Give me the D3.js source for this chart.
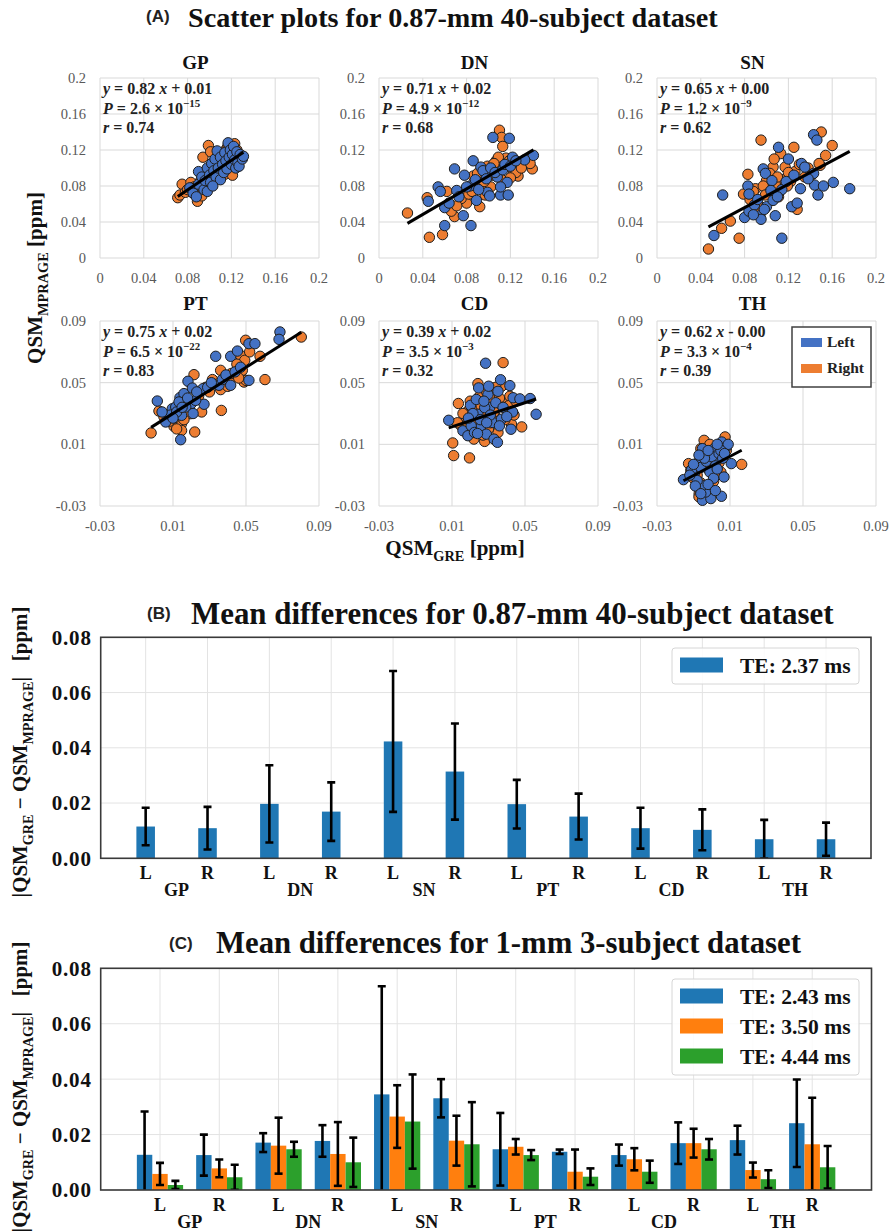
<!DOCTYPE html>
<html><head><meta charset="utf-8">
<script src="https://cdn.jsdelivr.net/npm/d3@7"></script>
<style>body{margin:0;background:#fff} svg{display:block}</style>
</head><body><svg id="c" width="891" height="1232"></svg>
<script>
// ---------------- DATA ----------------
const regions = ["GP","DN","SN","PT","CD","TH"];
const sides = ["L","R"];
const seriesNames = ["Left","Right"];

const gpLeft = [[0.082,0.078],[0.085,0.072],[0.088,0.068],[0.090,0.082],[0.090,0.096],[0.093,0.090],[0.095,0.076],[0.096,0.086],[0.098,0.074],[0.098,0.100],[0.100,0.092],[0.101,0.084],[0.102,0.105],[0.104,0.097],[0.105,0.110],[0.106,0.090],[0.107,0.119],[0.108,0.100],[0.110,0.087],[0.110,0.112],[0.112,0.104],[0.113,0.095],[0.114,0.117],[0.115,0.108],[0.116,0.099],[0.117,0.128],[0.118,0.112],[0.119,0.120],[0.120,0.104],[0.121,0.115],[0.122,0.124],[0.123,0.109],[0.124,0.100],[0.125,0.118],[0.126,0.106],[0.127,0.102],[0.128,0.115],[0.130,0.110],[0.131,0.113],[0.103,0.080]];
const gpRight = [[0.071,0.067],[0.073,0.070],[0.075,0.082],[0.078,0.073],[0.080,0.076],[0.083,0.084],[0.086,0.079],[0.089,0.063],[0.090,0.074],[0.092,0.086],[0.094,0.112],[0.095,0.091],[0.097,0.080],[0.099,0.125],[0.100,0.095],[0.101,0.118],[0.103,0.102],[0.105,0.088],[0.106,0.108],[0.108,0.097],[0.110,0.114],[0.111,0.102],[0.113,0.118],[0.114,0.093],[0.115,0.106],[0.116,0.122],[0.118,0.110],[0.119,0.098],[0.120,0.116],[0.121,0.092],[0.122,0.108],[0.123,0.127],[0.124,0.113],[0.125,0.120],[0.126,0.104],[0.128,0.110],[0.087,0.071],[0.093,0.069],[0.109,0.090],[0.117,0.125]];
const dnLeft = [[0.045,0.063],[0.054,0.079],[0.056,0.074],[0.060,0.056],[0.060,0.036],[0.069,0.099],[0.077,0.047],[0.084,0.036],[0.078,0.092],[0.086,0.108],[0.089,0.064],[0.093,0.101],[0.099,0.073],[0.101,0.069],[0.104,0.134],[0.119,0.133],[0.111,0.070],[0.118,0.070],[0.117,0.084],[0.122,0.112],[0.141,0.114],[0.133,0.109],[0.111,0.079],[0.108,0.090],[0.097,0.094],[0.083,0.080],[0.080,0.079],[0.071,0.075],[0.073,0.068],[0.088,0.087],[0.095,0.097],[0.102,0.100],[0.106,0.095],[0.113,0.098],[0.115,0.104],[0.120,0.102],[0.125,0.108],[0.091,0.076],[0.064,0.061],[0.098,0.088]];
const dnRight = [[0.026,0.050],[0.046,0.023],[0.058,0.026],[0.044,0.067],[0.062,0.074],[0.069,0.046],[0.110,0.142],[0.112,0.134],[0.113,0.124],[0.140,0.099],[0.138,0.105],[0.127,0.091],[0.092,0.057],[0.080,0.061],[0.086,0.091],[0.094,0.079],[0.102,0.079],[0.111,0.102],[0.116,0.111],[0.123,0.096],[0.112,0.087],[0.066,0.052],[0.075,0.066],[0.082,0.071],[0.088,0.083],[0.090,0.094],[0.096,0.085],[0.099,0.102],[0.104,0.092],[0.107,0.108],[0.109,0.112],[0.114,0.100],[0.119,0.108],[0.125,0.095],[0.130,0.100],[0.071,0.058],[0.085,0.074],[0.097,0.070],[0.105,0.105],[0.120,0.089]];
const snLeft = [[0.052,0.025],[0.060,0.070],[0.083,0.080],[0.084,0.071],[0.080,0.045],[0.084,0.052],[0.094,0.047],[0.095,0.043],[0.097,0.099],[0.099,0.094],[0.105,0.086],[0.100,0.057],[0.108,0.047],[0.111,0.123],[0.114,0.022],[0.114,0.076],[0.120,0.110],[0.123,0.057],[0.128,0.061],[0.131,0.077],[0.132,0.105],[0.135,0.101],[0.143,0.137],[0.146,0.131],[0.143,0.094],[0.144,0.081],[0.147,0.070],[0.152,0.080],[0.161,0.084],[0.176,0.077],[0.104,0.075],[0.089,0.059],[0.092,0.065],[0.098,0.054],[0.106,0.064],[0.110,0.068],[0.118,0.085],[0.125,0.092],[0.138,0.088],[0.088,0.048]];
const snRight = [[0.047,0.010],[0.059,0.033],[0.067,0.041],[0.075,0.022],[0.095,0.131],[0.083,0.093],[0.079,0.071],[0.090,0.077],[0.106,0.101],[0.113,0.116],[0.125,0.123],[0.150,0.140],[0.160,0.125],[0.154,0.114],[0.149,0.103],[0.128,0.054],[0.111,0.068],[0.115,0.087],[0.100,0.086],[0.117,0.101],[0.126,0.096],[0.135,0.090],[0.138,0.100],[0.094,0.052],[0.103,0.094],[0.085,0.065],[0.092,0.060],[0.097,0.080],[0.102,0.072],[0.108,0.082],[0.110,0.090],[0.120,0.095],[0.122,0.085],[0.130,0.104],[0.142,0.093],[0.148,0.105],[0.088,0.074],[0.099,0.070],[0.119,0.080],[0.107,0.110]];
const ptLeft = [[0.0014,0.0381],[0.006,0.0245],[0.0096,0.0331],[0.0115,0.0342],[0.0138,0.0403],[0.0142,0.013],[0.0147,0.0288],[0.016,0.0429],[0.0182,0.0509],[0.0206,0.0465],[0.020,0.0364],[0.027,0.036],[0.0264,0.0461],[0.0334,0.0671],[0.0352,0.0483],[0.0416,0.0483],[0.0416,0.0671],[0.0453,0.0705],[0.0516,0.0753],[0.0549,0.0753],[0.0516,0.0515],[0.0686,0.0829],[0.0681,0.0781],[0.0133,0.0375],[0.017,0.0342],[0.0224,0.0385],[0.0087,0.029],[0.004,0.031],[0.012,0.031],[0.018,0.040],[0.023,0.044],[0.029,0.047],[0.031,0.050],[0.037,0.052],[0.039,0.055],[0.044,0.057],[0.047,0.060],[0.010,0.027],[0.015,0.034],[0.021,0.030]];
const ptRight = [[-0.002,0.0174],[0.0023,0.0316],[0.0105,0.0217],[0.0147,0.0234],[0.0147,0.019],[0.0215,0.0552],[0.0219,0.018],[0.0197,0.0299],[0.0257,0.031],[0.0316,0.052],[0.0365,0.032],[0.0361,0.058],[0.0361,0.0455],[0.0425,0.0537],[0.047,0.0677],[0.048,0.058],[0.0498,0.0775],[0.0493,0.0645],[0.0489,0.0504],[0.0577,0.0671],[0.0604,0.052],[0.0803,0.0796],[0.050,0.0515],[0.011,0.0273],[0.017,0.0288],[0.028,0.047],[0.040,0.0476],[0.005,0.028],[0.008,0.025],[0.013,0.030],[0.019,0.035],[0.024,0.041],[0.030,0.044],[0.034,0.049],[0.045,0.062],[0.052,0.070],[0.012,0.020],[0.016,0.026],[0.042,0.056],[0.046,0.053]];
const cdLeft = [[0.0082,0.0256],[0.016,0.0188],[0.0187,0.0156],[0.0201,0.0353],[0.0233,0.0391],[0.0242,0.0295],[0.0246,0.0466],[0.026,0.022],[0.0288,0.0166],[0.0284,0.0626],[0.0297,0.0423],[0.0301,0.0477],[0.0306,0.0338],[0.0325,0.0241],[0.033,0.0134],[0.0349,0.0113],[0.0352,0.0444],[0.0366,0.0519],[0.0371,0.0263],[0.0417,0.0481],[0.0423,0.0198],[0.0432,0.031],[0.0435,0.0402],[0.0472,0.0395],[0.0528,0.0397],[0.0561,0.0295],[0.0205,0.022],[0.0223,0.0177],[0.0279,0.0338],[0.0215,0.030],[0.0255,0.026],[0.0275,0.038],[0.031,0.029],[0.034,0.037],[0.036,0.022],[0.038,0.034],[0.040,0.028],[0.019,0.027],[0.024,0.017],[0.029,0.024]];
const cdRight = [[0.0104,0.0109],[0.0109,0.0027],[0.0196,0.0012],[0.038,0.063],[0.0242,0.0494],[0.0135,0.0365],[0.0187,0.0316],[0.0279,0.0119],[0.022,0.0134],[0.0352,0.0177],[0.0385,0.0365],[0.0426,0.0231],[0.0482,0.0213],[0.0417,0.0412],[0.0371,0.0476],[0.0316,0.0466],[0.0168,0.0267],[0.015,0.022],[0.0316,0.0391],[0.0343,0.0273],[0.013,0.024],[0.017,0.020],[0.021,0.033],[0.023,0.026],[0.026,0.035],[0.028,0.028],[0.030,0.020],[0.033,0.031],[0.036,0.040],[0.039,0.026],[0.041,0.035],[0.044,0.029],[0.020,0.038],[0.025,0.041],[0.029,0.044],[0.034,0.047],[0.016,0.030],[0.027,0.016],[0.031,0.024],[0.045,0.038]];
const thLeft = [[-0.0155,-0.0129],[-0.0096,-0.009],[-0.0078,-0.0021],[-0.0051,0.0072],[-0.0015,0.004],[0.0013,0.0072],[0.0031,0.0007],[0.0055,0.0115],[0.008,0.0083],[0.0107,-0.0025],[0.0067,-0.0112],[-0.0051,-0.0263],[-0.0005,-0.0252],[0.0053,-0.0237],[-0.0033,-0.0209],[-0.0051,-0.0166],[-0.008,-0.0135],[-0.011,-0.0065],[-0.006,-0.005],[-0.003,-0.001],[0.000,0.002],[0.002,-0.004],[0.004,0.004],[0.006,0.001],[0.009,0.010],[-0.004,0.001],[-0.007,0.003],[-0.001,-0.008],[0.001,-0.012],[0.003,-0.006],[-0.009,-0.017],[-0.002,-0.016],[0.002,-0.020],[-0.006,-0.022],[0.005,0.006],[0.007,0.004],[-0.012,-0.010],[-0.010,-0.003],[0.003,0.010],[-0.002,0.006]];
const thRight = [[-0.0042,0.0126],[0.0073,0.0148],[0.0164,-0.003],[-0.0127,-0.0025],[-0.0069,-0.022],[0.0013,-0.0203],[0.0022,-0.009],[-0.0078,-0.0177],[-0.006,0.0072],[0.0004,0.004],[0.0049,0.0104],[-0.0115,-0.0069],[-0.004,-0.003],[-0.008,-0.010],[-0.002,-0.006],[0.000,0.000],[0.003,0.002],[0.006,0.008],[-0.006,-0.015],[-0.003,-0.018],[0.001,-0.014],[-0.010,-0.012],[-0.005,0.003],[0.004,-0.002],[-0.007,-0.024],[0.002,0.008],[0.008,0.006],[-0.001,0.010],[-0.009,-0.005],[0.005,-0.008]];

const leftSets = [gpLeft, dnLeft, snLeft, ptLeft, cdLeft, thLeft];
const rightSets = [gpRight, dnRight, snRight, ptRight, cdRight, thRight];

const fitSlope = [0.82, 0.71, 0.65, 0.75, 0.39, 0.62];
const fitIntercept = [0.010, 0.020, 0.004, 0.0225, 0.0175, -0.004];
const eqText = ["0.82 x + 0.01","0.71 x + 0.02","0.65 x + 0.00","0.75 x + 0.02","0.39 x + 0.02","0.62 x - 0.00"];
const pMantissa = ["2.6","4.9","1.2","6.5","3.5","3.3"];
const pExponent = ["\u221215","\u221212","\u22129","\u221222","\u22123","\u22124"];
const rValue = ["0.74","0.68","0.62","0.83","0.32","0.39"];

const ticksRow1 = [0, 0.04, 0.08, 0.12, 0.16, 0.2];
const ticksRow2 = [-0.03, 0.01, 0.05, 0.09];

// Panel B (0.87 mm, TE 2.37 ms): L/R per region
const meanB = [0.0115,0.0109,0.0197,0.0169,0.0423,0.0314,0.0196,0.0151,0.0109,0.0103,0.0069,0.0069];
const sdB   = [0.0068,0.0077,0.0140,0.0106,0.0255,0.0174,0.0088,0.0083,0.0074,0.0074,0.0070,0.0060];
const legendB = ["TE: 2.37 ms"];

// Panel C (1 mm, three TEs)
const meanC243 = [0.0127,0.0126,0.0171,0.0177,0.0345,0.0331,0.0147,0.0138,0.0126,0.0169,0.0180,0.0241];
const sdC243   = [0.0156,0.0074,0.0034,0.0057,0.0390,0.0069,0.0131,0.0008,0.0038,0.0075,0.0052,0.0158];
const meanC350 = [0.0058,0.0078,0.0160,0.0130,0.0265,0.0178,0.0156,0.0066,0.0111,0.0169,0.0072,0.0165];
const sdC350   = [0.0040,0.0032,0.0101,0.0115,0.0113,0.0090,0.0028,0.0080,0.0040,0.0052,0.0027,0.0168];
const meanC444 = [0.0018,0.0046,0.0147,0.0100,0.0247,0.0165,0.0126,0.0048,0.0066,0.0147,0.0039,0.0082];
const sdC444   = [0.0015,0.0045,0.0027,0.0089,0.0170,0.0152,0.0018,0.0030,0.0040,0.0037,0.0032,0.0077];
const legendC = ["TE: 2.43 ms","TE: 3.50 ms","TE: 4.44 ms"];

const barTicks = [0, 0.02, 0.04, 0.06, 0.08];

// ---------------- DRAWING ----------------
const SERIF = "'Liberation Serif','DejaVu Serif',serif";
const SANS = "'Liberation Sans','DejaVu Sans',sans-serif";
const svg = d3.select("#c");
svg.append("rect").attr("width",891).attr("height",1232).attr("fill","#fff");

function rich(sel, parts, fs) {
  let shift = 0;
  parts.forEach(p => {
    const t = sel.append("tspan").text(p.t);
    let target = 0;
    if (p.sub) { target = fs*0.28; t.attr("font-size", fs*0.68); }
    if (p.sup) { target = -fs*0.4; t.attr("font-size", fs*0.68); }
    if (target - shift !== 0) t.attr("dy", target - shift);
    shift = target;
    if (p.i) t.attr("font-style","italic");
  });
  return sel;
}
function fitWidth(sel, target) {
  const n = sel.node();
  const fs = parseFloat(sel.attr("font-size"));
  const w = n.getComputedTextLength();
  if (w > 0) { const nf = fs * target / w; sel.attr("font-size", nf); return nf; }
  return fs;
}

// Titles
function panelTitle(letter, lx, lby, text, tx, tby, width) {
  svg.append("text").attr("x",lx).attr("y",lby).attr("font-family",SANS).attr("font-size",17)
    .attr("font-weight","bold").attr("fill","#222").text(letter);
  const t = svg.append("text").attr("x",tx).attr("y",tby).attr("font-family",SERIF).attr("font-size",27)
    .attr("font-weight","bold").attr("fill","#111").text(text);
  fitWidth(t, width);
}
panelTitle("(A)", 146, 22, "Scatter plots for 0.87-mm 40-subject dataset", 188, 26.5, 530);
panelTitle("(B)", 147, 619, "Mean differences for 0.87-mm 40-subject dataset", 191, 623.5, 643);
panelTitle("(C)", 169, 949, "Mean differences for 1-mm 3-subject dataset", 216, 952.5, 585);

// ---- Panel A ----
const colX = [100, 379, 657], pw = 219;
const rowTop = [78, 321], rowH = [180, 185];
const domains = [[0, 0.2], [-0.03, 0.09]];
const tickSets = [ticksRow1, ticksRow2];
const fmtA = v => String(+v.toFixed(2));

regions.forEach((reg, i) => {
  const row = Math.floor(i/3), col = i % 3;
  const x0 = colX[col], y0 = rowTop[row], h = rowH[row];
  const xs = d3.scaleLinear().domain(domains[row]).range([x0, x0+pw]);
  const ys = d3.scaleLinear().domain(domains[row]).range([y0+h, y0]);
  const g = svg.append("g");
  const ticks = tickSets[row];
  g.selectAll(".hg").data(ticks).join("line")
    .attr("x1",x0).attr("x2",x0+pw).attr("y1",d=>ys(d)).attr("y2",d=>ys(d))
    .attr("stroke","#d9d9d9").attr("stroke-width",1);
  g.selectAll(".vg").data(ticks).join("line")
    .attr("y1",y0).attr("y2",y0+h).attr("x1",d=>xs(d)).attr("x2",d=>xs(d))
    .attr("stroke","#d9d9d9").attr("stroke-width",1);
  g.selectAll(".yl").data(ticks).join("text")
    .attr("x",x0-14).attr("y",d=>ys(d)).attr("dy","0.35em").attr("text-anchor","end")
    .attr("font-family",SERIF).attr("font-size",14.5).attr("fill","#595959").text(fmtA);
  g.selectAll(".xl").data(ticks).join("text")
    .attr("x",d=>xs(d)).attr("y",y0+h+20).attr("dy","0.35em").attr("text-anchor","middle")
    .attr("font-family",SERIF).attr("font-size",14.5).attr("fill","#595959").text(fmtA);
  g.append("text").attr("x",x0+pw/2-14).attr("y",row===0?68.5:309.5).attr("text-anchor","middle")
    .attr("font-family",SERIF).attr("font-size",19).attr("font-weight","bold").attr("fill","#111").text(reg);
  // points: Right first, then Left on top
  [[rightSets[i],"#ED7D31"],[leftSets[i],"#4472C4"]].forEach(([pts,col]) => {
    g.append("g").selectAll("circle").data(pts).join("circle")
      .attr("cx",d=>xs(d[0])).attr("cy",d=>ys(d[1])).attr("r",5.2)
      .attr("fill",col).attr("stroke","#1e1e1e").attr("stroke-width",1);
  });
  const all = leftSets[i].concat(rightSets[i]);
  const ext = d3.extent(all, d=>d[0]);
  const line = d3.line().x(d=>xs(d)).y(d=>ys(fitSlope[i]*d + fitIntercept[i]));
  g.append("path").attr("d", line(ext)).attr("stroke","#000").attr("stroke-width",3).attr("fill","none");
  // equation text
  const tx = x0+3, fs = 16;
  const t1 = g.append("text").attr("x",tx).attr("y",y0+16).attr("font-family",SERIF).attr("font-size",fs)
    .attr("font-weight","bold").attr("fill","#222");
  rich(t1, [{t:"y",i:true},{t:" = "},{t:eqText[i].split(" x ")[0]+" "},{t:"x",i:true},{t:" "+eqText[i].split(" x ")[1]}], fs);
  const t2 = g.append("text").attr("x",tx).attr("y",y0+35.5).attr("font-family",SERIF).attr("font-size",fs)
    .attr("font-weight","bold").attr("fill","#222");
  rich(t2, [{t:"P",i:true},{t:" = "+pMantissa[i]+" \u00d7 10"},{t:pExponent[i],sup:true}], fs);
  const t3 = g.append("text").attr("x",tx).attr("y",y0+55).attr("font-family",SERIF).attr("font-size",fs)
    .attr("font-weight","bold").attr("fill","#222");
  rich(t3, [{t:"r",i:true},{t:" = "+rValue[i]}], fs);

  if (i === 5) {
    const lg = g.append("g").attr("transform",`translate(${x0+135},${y0+6})`);
    lg.append("rect").attr("width",79).attr("height",60).attr("fill","#fff").attr("stroke","#404040").attr("stroke-width",1.5);
    seriesNames.forEach((nm, k) => {
      lg.append("rect").attr("x",9).attr("y",11+k*26).attr("width",21).attr("height",9)
        .attr("fill", k===0?"#4472C4":"#ED7D31");
      lg.append("text").attr("x",35).attr("y",20+k*26).attr("font-family",SERIF).attr("font-size",15.5)
        .attr("font-weight","bold").attr("fill","#222").text(nm);
    });
  }
});
// Panel A axis titles
{
  const fs0 = 20;
  const yt = svg.append("text").attr("transform","translate(42,278) rotate(-90)").attr("text-anchor","middle")
    .attr("font-family",SERIF).attr("font-size",fs0).attr("font-weight","bold").attr("fill","#111");
  rich(yt, [{t:"QSM"},{t:"MPRAGE",sub:true},{t:" [ppm]"}], fs0);
  const w = yt.node().getComputedTextLength();
  const fs = fs0 * 172 / w;
  yt.remove();
  const yt2 = svg.append("text").attr("transform","translate(42,278) rotate(-90)").attr("text-anchor","middle")
    .attr("font-family",SERIF).attr("font-size",fs).attr("font-weight","bold").attr("fill","#111");
  rich(yt2, [{t:"QSM"},{t:"MPRAGE",sub:true},{t:" [ppm]"}], fs);
  const xt = svg.append("text").attr("x",455).attr("y",555).attr("text-anchor","middle")
    .attr("font-family",SERIF).attr("font-size",fs).attr("font-weight","bold").attr("fill","#111");
  rich(xt, [{t:"QSM"},{t:"GRE",sub:true},{t:" [ppm]"}], fs);
}

// ---- Bar panels ----
const barColors = ["#1f77b4","#ff7f0e","#2ca02c"];
const cats = regions.flatMap(r => sides.map(s => ({region:r, side:s})));

function barPanel(opts) {
  const {left,right,top,bottom,xdom,series,width,offsets,legend,legendBox,ycenter,id} = opts;
  const xs = d3.scaleLinear().domain(xdom).range([left,right]);
  const ys = d3.scaleLinear().domain([0,0.08]).range([bottom,top]);
  const g = svg.append("g");
  g.append("clipPath").attr("id",id).append("rect").attr("x",left).attr("y",top).attr("width",right-left).attr("height",bottom-top);
  g.selectAll(".hg").data(barTicks).join("line").attr("x1",left).attr("x2",right)
    .attr("y1",d=>ys(d)).attr("y2",d=>ys(d)).attr("stroke","#e3e3e3").attr("stroke-width",1);
  g.selectAll(".vg").data(cats).join("line").attr("y1",top).attr("y2",bottom)
    .attr("x1",(d,i)=>xs(i)).attr("x2",(d,i)=>xs(i)).attr("stroke","#e3e3e3").attr("stroke-width",1);
  const pg = g.append("g").attr("clip-path",`url(#${id})`);
  series.forEach((s, k) => {
    pg.append("g").selectAll("rect").data(s.mean).join("rect")
      .attr("x",(d,i)=>xs(i+offsets[k]-width/2)).attr("width",xs(width)-xs(0))
      .attr("y",d=>ys(d)).attr("height",d=>ys(0)-ys(d)).attr("fill",barColors[k]);
  });
  series.forEach((s, k) => {
    const eg = pg.append("g").attr("stroke","#000").attr("stroke-width",2.6);
    s.mean.forEach((m, i) => {
      const cx = xs(i+offsets[k]);
      const lo = ys(m - s.sd[i]), hi = ys(m + s.sd[i]);
      eg.append("line").attr("x1",cx).attr("x2",cx).attr("y1",lo).attr("y2",hi);
      eg.append("line").attr("x1",cx-4).attr("x2",cx+4).attr("y1",hi).attr("y2",hi);
      eg.append("line").attr("x1",cx-4).attr("x2",cx+4).attr("y1",lo).attr("y2",lo);
    });
  });
  g.append("rect").attr("x",left).attr("y",top).attr("width",right-left).attr("height",bottom-top)
    .attr("fill","none").attr("stroke","#3a3a3a").attr("stroke-width",1.6);
  g.selectAll(".yl").data(barTicks).join("text").attr("x",left-9).attr("y",d=>ys(d)).attr("dy","0.35em")
    .attr("text-anchor","end").attr("font-family",SERIF).attr("font-size",21).attr("font-weight","bold")
    .attr("letter-spacing",0.8).attr("fill","#111").text(d3.format(".2f"));
  g.selectAll(".xl").data(cats).join("text").attr("x",(d,i)=>xs(i)).attr("y",bottom+21)
    .attr("text-anchor","middle").attr("font-family",SERIF).attr("font-size",18).attr("font-weight","bold")
    .attr("fill","#111").text(d=>d.side);
  g.selectAll(".gl").data(regions).join("text").attr("x",(d,i)=>xs(2*i+0.5)).attr("y",bottom+38)
    .attr("text-anchor","middle").attr("font-family",SERIF).attr("font-size",18).attr("font-weight","bold")
    .attr("fill","#111").text(d=>d);
  // legend
  const [lx,ly,lw,lh] = legendBox;
  const lg = g.append("g");
  lg.append("rect").attr("x",lx).attr("y",ly).attr("width",lw).attr("height",lh).attr("rx",3)
    .attr("fill","#fff").attr("fill-opacity",0.85).attr("stroke","#d6d6d6").attr("stroke-width",1);
  legend.forEach((nm, k) => {
    const cy = ly + 17 + k*30;
    lg.append("rect").attr("x",lx+8).attr("y",cy-7.5).attr("width",43).attr("height",15).attr("fill",barColors[k]);
    lg.append("text").attr("x",lx+68).attr("y",cy).attr("dy","0.35em").attr("font-family",SERIF)
      .attr("font-size",21.5).attr("font-weight","bold").attr("fill","#111").text(nm);
  });
  // y title
  const mk = (fs) => {
    const yt = g.append("text").attr("transform",`translate(27,${ycenter}) rotate(-90)`).attr("text-anchor","middle")
      .attr("font-family",SERIF).attr("font-size",fs).attr("font-weight","bold").attr("fill","#111")
      .style("white-space","pre");
    rich(yt, [{t:"|QSM"},{t:"GRE",sub:true},{t:" \u2212 QSM"},{t:"MPRAGE",sub:true},{t:"|   [ppm]"}], fs);
    return yt;
  };
  const probe = mk(17);
  const w = probe.node().getComputedTextLength();
  probe.remove();
  mk(17 * 291 / w);
}

barPanel({id:"clipB", left:100.7, right:871, top:637.3, bottom:858.3, xdom:[-0.727, 11.727],
  series:[{mean:meanB, sd:sdB}], width:0.3, offsets:[0], legend:legendB,
  legendBox:[672, 648, 187, 36], ycenter:752});
barPanel({id:"clipC", left:100.7, right:871.5, top:968.3, bottom:1190, xdom:[-1, 12],
  series:[{mean:meanC243, sd:sdC243},{mean:meanC350, sd:sdC350},{mean:meanC444, sd:sdC444}],
  width:0.26, offsets:[-0.26, 0, 0.26], legend:legendC,
  legendBox:[672, 979, 187, 96], ycenter:1087});
</script>
</body></html>
